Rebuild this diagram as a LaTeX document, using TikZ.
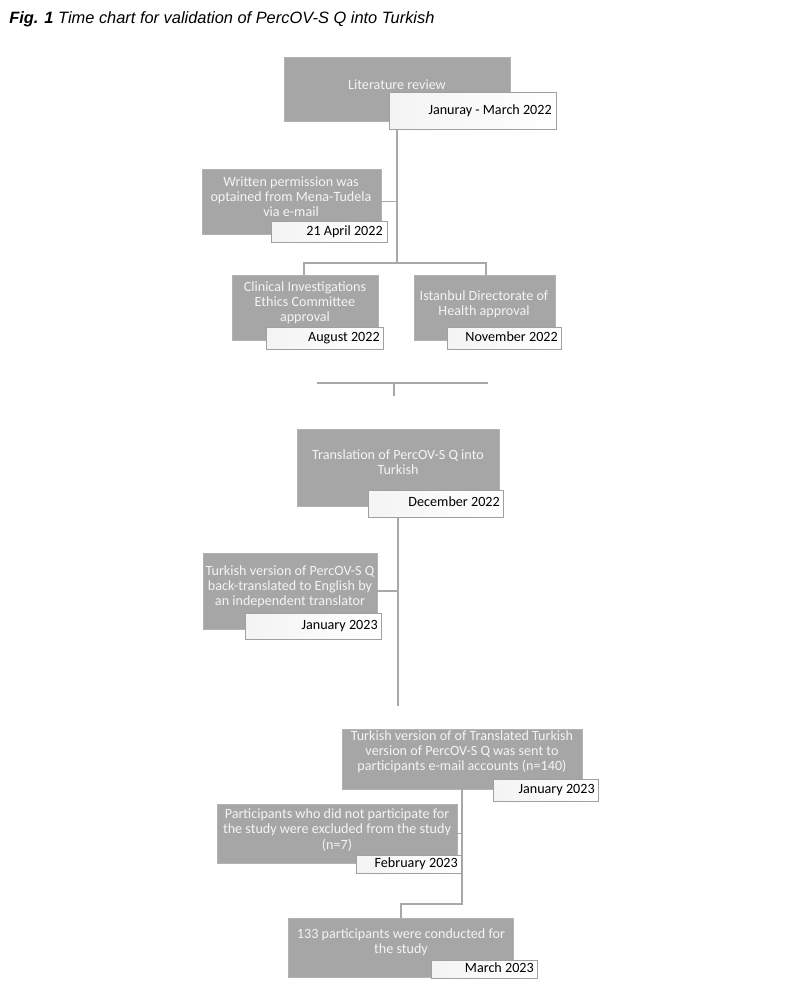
\documentclass[tikz,border=0pt]{standalone}
\usepackage{fontspec}
\setmainfont{Carlito}
\newfontfamily\titlefont{Liberation Sans}
\usetikzlibrary{calc}
\definecolor{boxgray}{HTML}{A6A6A6}
\definecolor{boxedge}{HTML}{B2B2B2}
\definecolor{linegray}{HTML}{A8A8A8}
\definecolor{dateedge}{HTML}{A0A0A0}
\definecolor{boxtext}{HTML}{F4F4F4}
\newcommand\rbox[6]{\node[#1, minimum width={(#5-#3)*0.75pt}, minimum height={(#6-#4)*0.75pt}] (#2) at ({(#3+#5)/2},{(#4+#6)/2}) {};}
\begin{document}
\begin{tikzpicture}[x=0.75pt,y=-0.75pt,
 gbox/.style={fill=boxgray, draw=boxedge, line width=0.5pt, inner sep=0pt, outer sep=0pt},
 dbox/.style={left color=gray!9, right color=white, draw=dateedge, line width=0.75pt, inner sep=0pt, outer sep=0pt},
 gtext/.style={text=boxtext, align=center, font=\fontsize{10.6pt}{11.3pt}\selectfont, inner sep=0pt},
 dtext/.style={text=black, font=\fontsize{10.6pt}{11.3pt}\selectfont, inner sep=0pt, anchor=east, text height=7.4pt, text depth=2.2pt},
 conn/.style={draw=linegray, line width=1.1pt},
 ttl/.style={font=\titlefont\fontsize{12.3pt}{14pt}\selectfont\itshape, anchor=base west, inner sep=0pt},
]
\fill[white] (0,0) rectangle (800,1005);
\useasboundingbox (0,0) rectangle (800,1005);

\node[ttl] (title) at (9,24) {\textbf{Fig. 1} Time chart for validation of PercOV-S Q into Turkish};

% junction coordinates
\coordinate (j1) at (397,263);
\coordinate (c3) at (304,263);
\coordinate (c4) at (486,263);
\coordinate (k1) at (317,383);
\coordinate (k2) at (488,383);
\coordinate (k3) at (394,396);
\coordinate (j2) at (398,706);
\coordinate (j3) at (462,904);
\coordinate (j4) at (401,904);

% boxes
\rbox{gbox}{b1}{284}{57}{510}{121}
\rbox{gbox}{b2}{202}{169}{381}{234}
\rbox{gbox}{b3}{232}{275}{378}{340}
\rbox{gbox}{b4}{414}{275}{555}{340}
\rbox{gbox}{b5}{297}{429}{499}{506}
\rbox{gbox}{b6}{203}{553}{377}{629}
\rbox{gbox}{b7}{342}{729}{582}{789}
\rbox{gbox}{b8}{217}{804}{457}{863}
\rbox{gbox}{b9}{288}{918}{513}{977}

% connectors
\draw[conn] (b1.south -| j1) -- (j1);
\draw[conn] (b3.north -| c3) -- (c3) -- (c4) -- (b4.north -| c4);
\draw[conn] (b2.east) -- (b2.east -| j1);
\draw[conn] (k1) -- (k2);
\draw[conn] (k3 |- k1) -- (k3);
\draw[conn] (b5.south -| j2) -- (j2);
\draw[conn] (b6.east) -- (b6.east -| j2);
\draw[conn] (b7.south -| j3) -- (j3) -- (j4) -- (b9.north -| j4);
\draw[conn] (b8.east) -- (b8.east -| j3);

% date boxes
\rbox{dbox}{d1}{389}{93}{556}{130}
\rbox{dbox}{d2}{271}{222}{387}{243}
\rbox{dbox}{d3}{266}{327}{383}{349}
\rbox{dbox}{d4}{447}{327}{561}{349}
\rbox{dbox}{d5}{368}{490}{503}{517}
\rbox{dbox}{d6}{245}{613}{381}{639}
\rbox{dbox}{d7}{493}{779}{598}{801}
\rbox{dbox}{d8}{356}{855}{461}{873}
\rbox{dbox}{d9}{431}{960}{537}{978}

% box texts
\node[gtext] (t1) at (397,85) {Literature review};
\node[gtext] (t2) at (291,197) {Written permission was\\optained from Mena-Tudela\\via e-mail};
\node[gtext] (t3) at (305,303) {Clinical Investigations\\Ethics Committee\\approval};
\node[gtext] (t4) at (484,304) {Istanbul Directorate of\\Health approval};
\node[gtext] (t5) at (398,462) {Translation of PercOV-S Q into\\Turkish};
\node[gtext] (t6) at (290,587) {Turkish version of PercOV-S Q\\back-translated to English by\\an independent translator};
\node[gtext] (t7) at (462,752) {Turkish version of of Translated Turkish\\version of PercOV-S Q was sent to\\participants e-mail accounts (n=140)};
\node[gtext] (t8) at (337,830) {Participants who did not participate for\\the study were excluded from the study\\(n=7)};
\node[gtext] (t9) at (401,942) {133 participants were conducted for\\the study};

% date texts
\node[dtext] (e1) at ($(d1.east)+(-4,0)$) {Januray - March 2022};
\node[dtext] (e2) at ($(d2.east)+(-4,0)$) {21 April 2022};
\node[dtext] (e3) at ($(d3.east)+(-3,0)$) {August 2022};
\node[dtext] (e4) at ($(d4.east)+(-3,0)$) {November 2022};
\node[dtext] (e5) at ($(d5.east)+(-3,0)$) {December 2022};
\node[dtext] (e6) at ($(d6.east)+(-3,0)$) {January 2023};
\node[dtext] (e7) at ($(d7.east)+(-3,0)$) {January 2023};
\node[dtext] (e8) at ($(d8.east)+(-3,0)$) {February 2023};
\node[dtext] (e9) at ($(d9.east)+(-3,0)$) {March 2023};
\end{tikzpicture}
\end{document}
